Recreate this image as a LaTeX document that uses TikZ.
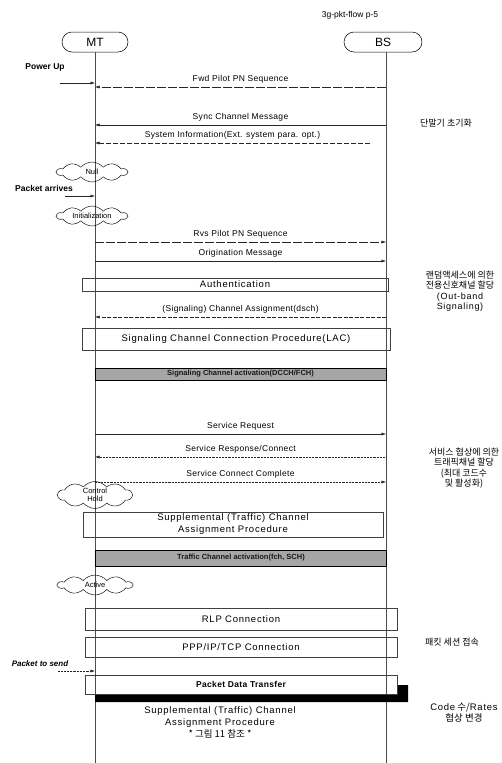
\documentclass[tikz,border=0pt]{standalone}
\usepackage{fontspec}
\setmainfont{Liberation Sans}
\newfontfamily\kr{Noto Sans CJK KR}
\usetikzlibrary{arrows.meta,shapes.symbols,shapes.misc}
\newcommand{\wide}[1]{\addfontfeature{LetterSpace=#1}}
\begin{document}
\begin{tikzpicture}[x=1pt,y=-1pt,
  every node/.style={inner sep=0pt},
  msglbl/.style={font=\fontsize{8.5}{9}\selectfont\wide{4}, above=3.5pt},
  msg/.style={line width=0.45pt, draw=black!85, -{Latex[length=4.5pt,width=3pt]}},
  life/.style={line width=0.4pt, draw=black!70},
  actor/.style={rounded rectangle, draw, line width=0.5pt, minimum width=66pt, minimum height=20pt, font=\fontsize{12}{13}\selectfont},
  statecloud/.style={cloud, cloud puffs=10, cloud puff arc=100, cloud ignores aspect, draw, line width=0.45pt, minimum width=70pt, minimum height=20pt, font=\fontsize{7.5}{8.5}\selectfont, align=center},
  proc/.style={draw=black!75, line width=0.45pt, font=\fontsize{9.5}{12}\selectfont\wide{8}, align=center},
  shadebar/.style={draw, fill=black!35, line width=0.5pt, font=\bfseries\fontsize{7.5}{8}\selectfont, text=black!90},
  sidelbl/.style={font=\bfseries\fontsize{8.5}{9}\selectfont},
  note/.style={font=\kr\fontsize{9}{10.5}\selectfont, align=center},
]
\useasboundingbox (0,0) rectangle (502,763);

% header
\node[font=\fontsize{8.5}{9}\selectfont] (hdr) at (350,15) {3g-pkt-flow p-5};

% actors and lifelines
\node[actor] (MT) at (95,42) {MT};
\node[actor, minimum width=78pt] (BS) at (383,42) {BS};
\coordinate (bsstart) at (386,52);
\coordinate (mtend) at (95,763);
\coordinate (bsend) at (386,763);
\draw[life] (MT.south) -- (mtend);
\draw[life] (bsstart) -- (bsend);

% Power up
\node[sidelbl] (pwr) at (45,67) {Power Up};
\coordinate (pwrA) at (60,83); \coordinate (pwrB) at (95,83);
\draw[msg] (pwrA) -- (pwrB);

% messages
\coordinate (m1b) at (386,87);  \coordinate (m1m) at (95,87);
\draw[msg, dash pattern=on 9pt off 2pt] (m1b) -- node[msglbl]{Fwd Pilot PN Sequence} (m1m);
\coordinate (m2b) at (386,125); \coordinate (m2m) at (95,125);
\draw[msg] (m2b) -- node[msglbl]{Sync Channel Message} (m2m);
\coordinate (m3b) at (370,143); \coordinate (m3m) at (95,143);
\draw[msg, dash pattern=on 5pt off 2pt] (m3b) -- node[msglbl]{System Information(Ext. system para. opt.)} (m3m);

\node[statecloud] (null) at (92,172) {Null};
\node[sidelbl] (pkta) at (44,188) {Packet arrives};
\coordinate (pktaA) at (65,196); \coordinate (pktaB) at (95,196);
\draw[msg] (pktaA) -- (pktaB);
\node[statecloud] (init) at (92,216) {Initialization};

\coordinate (m4m) at (95,242); \coordinate (m4b) at (386,242);
\draw[msg, dash pattern=on 9pt off 2pt] (m4m) -- node[msglbl]{Rvs Pilot PN Sequence} (m4b);
\coordinate (m5m) at (95,261); \coordinate (m5b) at (386,261);
\draw[msg] (m5m) -- node[msglbl]{Origination Message} (m5b);

\node[proc, minimum width=306pt, minimum height=13pt] (auth) at (235,284.5) {Authentication};

\coordinate (m6b) at (386,317); \coordinate (m6m) at (95,317);
\draw[msg, dash pattern=on 4pt off 1.5pt] (m6b) -- node[msglbl]{(Signaling) Channel Assignment(dsch)} (m6m);

\node[proc, minimum width=308pt, minimum height=22pt] (lac) at (236,339) {Signaling Channel Connection Procedure(LAC)};

\node[shadebar, minimum width=291pt, minimum height=12pt] (sact) at (240.5,374) {Signaling Channel activation(DCCH/FCH)};

\coordinate (m7m) at (95,434); \coordinate (m7b) at (386,434);
\draw[msg] (m7m) -- node[msglbl]{Service Request} (m7b);
\coordinate (m8b) at (386,457); \coordinate (m8m) at (95,457);
\draw[msg, densely dotted] (m8b) -- node[msglbl]{Service Response/Connect} (m8m);
\coordinate (m9m) at (95,482); \coordinate (m9b) at (386,482);
\draw[msg, densely dotted] (m9m) -- node[msglbl]{Service Connect Complete} (m9b);

\node[statecloud, minimum width=74pt, minimum height=27pt] (chold) at (95,495) {Control\\Hold};

\node[proc, minimum width=300pt, minimum height=25pt] (supp) at (233,524.5) {Supplemental (Traffic) Channel\\Assignment Procedure};

\node[shadebar, minimum width=291pt, minimum height=16pt] (tact) at (241,558) {Traffic Channel activation(fch, SCH)};

\node[statecloud, minimum width=74pt] (active) at (95,585) {Active};

\node[proc, minimum width=312pt, minimum height=22pt] (rlp) at (241,619) {RLP Connection};
\node[proc, minimum width=312pt, minimum height=20pt] (ppp) at (241,647) {PPP/IP/TCP Connection};

\node[font=\bfseries\itshape\fontsize{8}{9}\selectfont] (pkts) at (40,664) {Packet to send};
\coordinate (pktsA) at (58,671); \coordinate (pktsB) at (95,671);
\draw[msg, densely dotted] (pktsA) -- (pktsB);

\fill[black] (95,694) -- (397,694) -- (397,685) -- (408,685) -- (408,702) -- (95,702) -- cycle;
\node[proc, minimum width=312pt, minimum height=19pt, font=\bfseries\fontsize{8.5}{9}\selectfont\wide{4}] (pdt) at (241,684.5) {Packet Data Transfer};

\node[font=\fontsize{9.5}{12}\selectfont\wide{8}, align=center] (supp2) at (220,722) {Supplemental (Traffic) Channel\\Assignment Procedure\\{\kr * 그림 11 참조 *}};

% side notes
\node[note] (n1) at (446,123) {단말기 초기화};
\node[note] (n2) at (460,291) {랜덤액세스에 의한\\전용신호채널 할당\\{\rmfamily\wide{8} (Out-band}\\{\rmfamily\wide{8} Signaling)}};
\node[note] (n3) at (464,468) {서비스 협상에 의한\\트래픽채널 할당\\(최대 코드수\\및 활성화)};
\node[note] (n4) at (452,642) {패킷 세션 접속};
\node[note, font=\kr\fontsize{9.5}{11}\selectfont] (n5) at (464,713) {{\rmfamily\wide{8} Code} 수/{\rmfamily\wide{8}Rates}\\협상 변경};
\end{tikzpicture}
\end{document}
